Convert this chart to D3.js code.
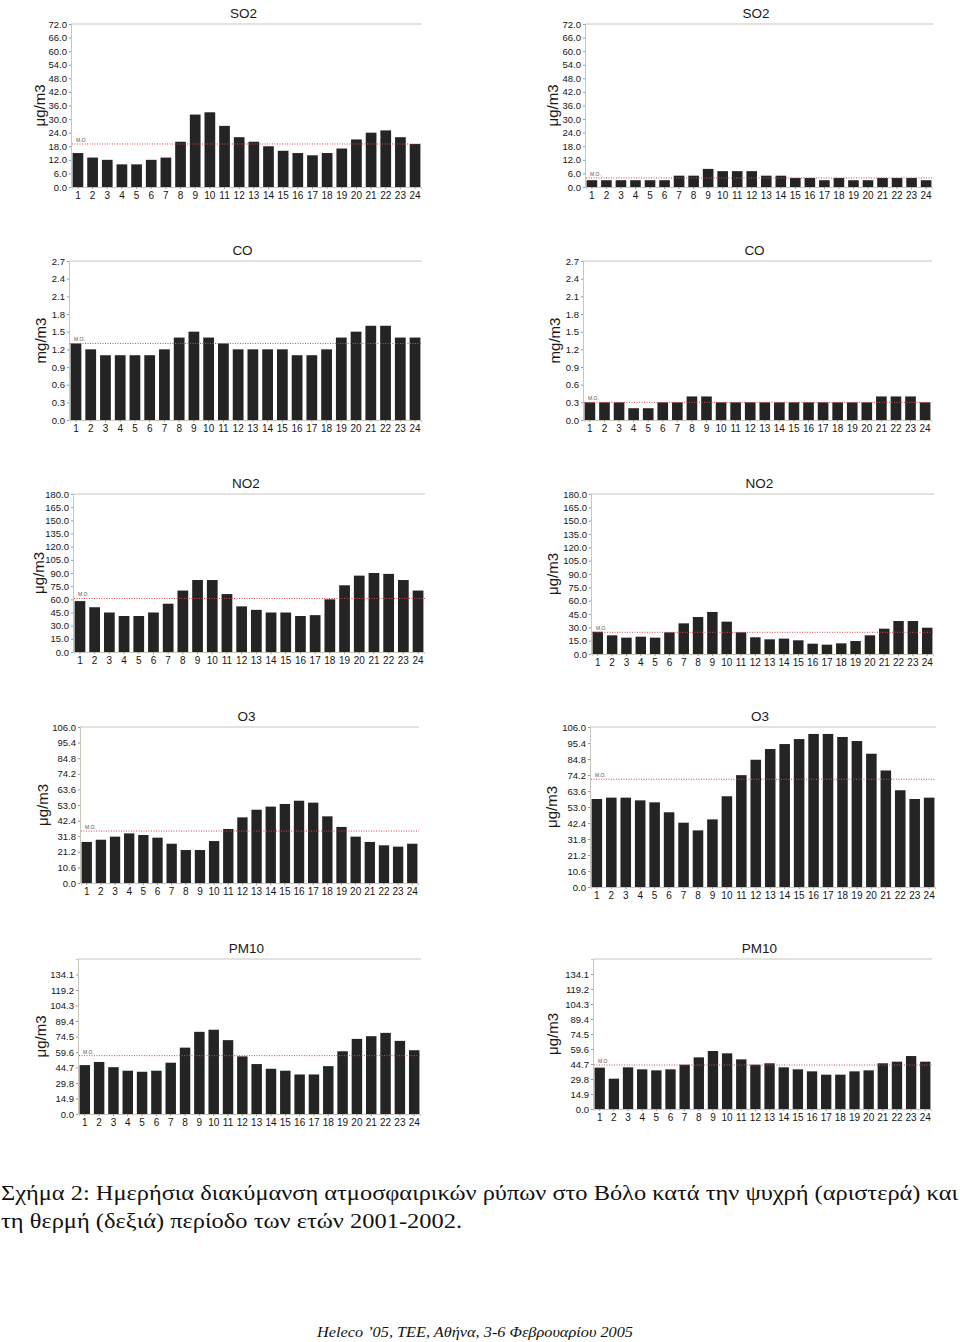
<!DOCTYPE html>
<html>
<head>
<meta charset="utf-8">
<script src="https://cdn.jsdelivr.net/npm/d3@7"></script>
<style>
  body { margin: 0; background: #fff; }
  svg { display: block; }
  .tick text { font-family: "Liberation Sans", Arial, sans-serif; fill: #151515; }
</style>
</head>
<body>
<svg id="chart" width="960" height="1342"></svg>
<script>
// hours of the day
const hours = ["1","2","3","4","5","6","7","8","9","10","11","12","13","14","15","16","17","18","19","20","21","22","23","24"];

// cold period (left column)
const so2Cold  = [15, 13, 12, 10, 10, 12, 13, 20, 32, 33, 27, 22, 20, 18, 16, 15, 14, 15, 17, 21, 24, 25, 22, 19];
const coCold   = [1.3, 1.2, 1.1, 1.1, 1.1, 1.1, 1.2, 1.4, 1.5, 1.4, 1.3, 1.2, 1.2, 1.2, 1.2, 1.1, 1.1, 1.2, 1.4, 1.5, 1.6, 1.6, 1.4, 1.4];
const no2Cold  = [58, 51, 45, 41, 41, 45, 55, 70, 82, 82, 66, 52, 48, 45, 45, 41, 42, 60, 76, 87, 90, 89, 82, 70];
const o3Cold   = [27.9, 29.4, 31.5, 33.7, 32.6, 30.8, 26.7, 22.4, 22.4, 28.5, 36.7, 44.6, 49.8, 51.9, 53.7, 55.9, 54.6, 45.3, 38.1, 31.5, 27.9, 25.6, 24.7, 26.7];
const pm10Cold = [47, 50, 45, 41.6, 40.6, 41.6, 49.3, 63.8, 79, 81, 71, 55.4, 48, 43.5, 41.6, 38, 38, 46, 60.3, 72.2, 74.8, 78, 70.3, 61.3];

// warm period (right column)
const so2Warm  = [3, 3, 3, 3, 3, 3, 5, 5, 8, 7, 7, 7, 5, 5, 4, 4, 3, 4, 3, 3, 4, 4, 4, 3];
const coWarm   = [0.3, 0.3, 0.3, 0.2, 0.2, 0.3, 0.3, 0.4, 0.4, 0.3, 0.3, 0.3, 0.3, 0.3, 0.3, 0.3, 0.3, 0.3, 0.3, 0.3, 0.4, 0.4, 0.4, 0.3];
const no2Warm  = [25, 21, 18.4, 19.5, 18.4, 24.4, 34.5, 41.6, 47.3, 36.4, 24.4, 18.8, 16.5, 17.3, 15.4, 11.6, 10.5, 12, 14.6, 21, 28.5, 37.1, 37.1, 29.6];
const o3Warm   = [58.3, 59.2, 59.2, 57.4, 56.1, 49.5, 42.6, 37.5, 44.8, 60.1, 74.1, 84.3, 91.4, 94.7, 98, 101.4, 101.4, 99.4, 96.7, 88.3, 77.2, 64.1, 58.3, 59.2];
const pm10Warm = [41.1, 30.1, 41.4, 39.4, 38.4, 39.4, 44, 51.3, 57.6, 55.3, 49.3, 44, 45.4, 41.4, 39.4, 37.4, 34.1, 34.1, 37.4, 38.4, 45.4, 47, 52.6, 47];

// mean values (M.O.)
const meansCold = [19, 1.3, 61, 35.3, 56.1];
const meansWarm = [4, 0.3, 24.4, 71.4, 43.7];

// axis ticks
const so2Ticks  = [0, 6, 12, 18, 24, 30, 36, 42, 48, 54, 60, 66, 72];
const coTicks   = [0, 0.3, 0.6, 0.9, 1.2, 1.5, 1.8, 2.1, 2.4, 2.7];
const no2Ticks  = [0, 15, 30, 45, 60, 75, 90, 105, 120, 135, 150, 165, 180];
const o3Ticks   = [0, 10.6, 21.2, 31.8, 42.4, 53, 63.6, 74.2, 84.8, 95.4, 106];
const pm10Ticks = [0, 14.9, 29.8, 44.7, 59.6, 74.5, 89.4, 104.3, 119.2, 134.1];
const pm10Max = 149;

const titles = ["SO2", "CO", "NO2", "O3", "PM10"];
const units  = ["μg/m3", "mg/m3", "μg/m3", "μg/m3", "μg/m3"];

const svg = d3.select("#chart");

// plot frames: [left axis x, right x, top y, baseline y, y-title x]
const frames = [
  {d: so2Cold,  m: meansCold[0], t: so2Ticks,  max: 72,  k: 0, box: [71, 422, 24, 187, 40]},
  {d: so2Warm,  m: meansWarm[0], t: so2Ticks,  max: 72,  k: 0, box: [585, 933, 24, 187, 553]},
  {d: coCold,   m: meansCold[1], t: coTicks,   max: 2.7, k: 1, box: [69, 422, 261, 420, 41]},
  {d: coWarm,   m: meansWarm[1], t: coTicks,   max: 2.7, k: 1, box: [583, 932, 261, 420, 555]},
  {d: no2Cold,  m: meansCold[2], t: no2Ticks,  max: 180, k: 2, box: [73, 425, 494, 652, 39]},
  {d: no2Warm,  m: meansWarm[2], t: no2Ticks,  max: 180, k: 2, box: [591, 934, 494, 654, 553]},
  {d: o3Cold,   m: meansCold[3], t: o3Ticks,   max: 106, k: 3, box: [80, 419, 727, 883, 43]},
  {d: o3Warm,   m: meansWarm[3], t: o3Ticks,   max: 106, k: 3, box: [590, 936, 727, 887, 552]},
  {d: pm10Cold, m: meansCold[4], t: pm10Ticks, max: pm10Max, k: 4, box: [78, 421, 959, 1114, 41]},
  {d: pm10Warm, m: meansWarm[4], t: pm10Ticks, max: pm10Max, k: 4, box: [593, 932, 959, 1109, 553]}
];

frames.forEach(function(f) {
  const [x0, x1, y0, y1, ux] = f.box;
  const g = svg.append("g");

  const x = d3.scaleBand().domain(hours).range([x0 + 1, x1 - 1]).paddingInner(0.27).paddingOuter(0.04);
  const y = d3.scaleLinear().domain([0, f.max]).range([y1, y0]);

  // top frame line
  g.append("line")
    .attr("x1", x0).attr("x2", x1).attr("y1", y0).attr("y2", y0)
    .attr("stroke", "#c9c6bb").attr("stroke-width", 1.2);

  // bars
  g.selectAll("rect").data(f.d).enter().append("rect")
    .attr("x", (d, i) => x(hours[i]))
    .attr("width", x.bandwidth())
    .attr("y", d => y(d))
    .attr("height", d => y1 - y(d))
    .attr("fill", "#242424");

  // y axis
  const ya = g.append("g")
    .attr("transform", `translate(${x0},0)`)
    .call(d3.axisLeft(y).tickValues(f.t).tickFormat(d3.format(".1f")).tickSize(2).tickPadding(2));
  ya.select(".domain").attr("stroke", "#c9c6bb");
  ya.selectAll(".tick line").attr("stroke", "#999");
  ya.selectAll(".tick text").attr("font-size", 9.5);

  // x axis
  const xa = g.append("g")
    .attr("transform", `translate(0,${y1})`)
    .call(d3.axisBottom(x).tickSize(2).tickPadding(3));
  xa.select(".domain").attr("stroke", "#c9c6bb");
  xa.selectAll(".tick line").attr("stroke", "#999");
  xa.selectAll(".tick text").attr("font-size", 10);

  // mean line
  g.append("line")
    .attr("x1", x0 + 1).attr("x2", x1).attr("y1", y(f.m)).attr("y2", y(f.m))
    .attr("stroke", "#d4474f").attr("stroke-width", 1).attr("stroke-dasharray", "1,1.5");
  g.append("text")
    .attr("x", x0 + 5).attr("y", y(f.m) - 2)
    .attr("font-family", "Liberation Sans, Arial, sans-serif")
    .attr("font-size", 5).attr("fill", "#555")
    .text("M.O.");

  // title
  g.append("text")
    .attr("x", (x0 + x1) / 2 - 3).attr("y", y0 - 6)
    .attr("text-anchor", "middle")
    .attr("font-family", "Liberation Sans, Arial, sans-serif")
    .attr("font-size", 13.5).attr("fill", "#1a1a1a")
    .text(titles[f.k]);

  // unit label
  g.append("text")
    .attr("transform", `translate(${ux + 5},${(y0 + y1) / 2}) rotate(-90)`)
    .attr("text-anchor", "middle")
    .attr("font-family", "Liberation Sans, Arial, sans-serif")
    .attr("font-size", 15).attr("fill", "#1a1a1a")
    .text(units[f.k]);
});

// caption
svg.append("text")
  .attr("x", 1).attr("y", 1200)
  .attr("font-family", "'Liberation Serif', 'Times New Roman', serif")
  .attr("font-size", 20).attr("fill", "#111")
  .attr("textLength", 957).attr("lengthAdjust", "spacingAndGlyphs")
  .text("Σχήμα 2: Ημερήσια διακύμανση ατμοσφαιρικών ρύπων στο Βόλο κατά την ψυχρή (αριστερά) και");
svg.append("text")
  .attr("x", 1).attr("y", 1228)
  .attr("font-family", "'Liberation Serif', 'Times New Roman', serif")
  .attr("font-size", 20).attr("fill", "#111")
  .attr("textLength", 461).attr("lengthAdjust", "spacingAndGlyphs")
  .text("τη θερμή (δεξιά) περίοδο των ετών 2001-2002.");

// footer
svg.append("text")
  .attr("x", 317).attr("y", 1337)
  .attr("font-family", "'Liberation Serif', 'Times New Roman', serif")
  .attr("font-style", "italic")
  .attr("font-size", 15).attr("fill", "#111")
  .attr("textLength", 316).attr("lengthAdjust", "spacingAndGlyphs")
  .text("Heleco ’05, ΤΕΕ, Αθήνα, 3-6 Φεβρουαρίου 2005");
</script>
</body>
</html>
